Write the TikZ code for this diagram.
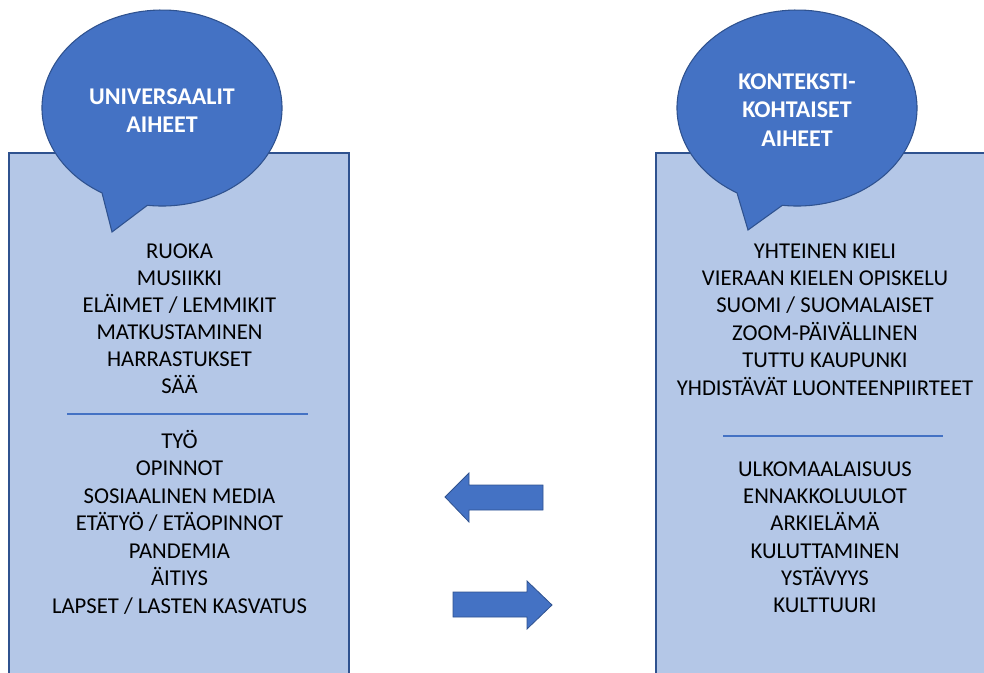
\documentclass[tikz,border=0pt]{standalone}
\usepackage{fontspec}
\setmainfont{Carlito}
\definecolor{panelfill}{HTML}{B4C7E7}
\definecolor{bubblefill}{HTML}{4472C4}
\definecolor{borderblue}{HTML}{2F528F}
\definecolor{lineblue}{HTML}{4472C4}
\begin{document}
\begin{tikzpicture}[x=0.75pt,y=-0.75pt,
  panel/.style={fill=panelfill,draw=borderblue,line width=0.8pt},
  bubble/.style={fill=bubblefill,draw=borderblue,line width=0.8pt},
  bubbletext/.style={text=white,font=\fontsize{18}{21.4}\selectfont\bfseries,align=center,inner sep=0pt},
  item/.style={font=\fontsize{17}{20}\selectfont,anchor=base,inner sep=0pt},
  sepline/.style={draw=lineblue,line width=0.8pt},
  bigarrow/.style={fill=bubblefill,draw=borderblue,line width=0.6pt}]
\useasboundingbox (0,0) rectangle (984,673);
\clip (0,0) rectangle (984,673);
% panels
\draw[panel] (9,153) rectangle (349,700);
\draw[panel] (656,153) rectangle (1000,700);
% bubbles
\draw[bubble] (102,192.9) arc[start angle=120,end angle=457,x radius=120,y radius=98] -- (112,232) -- cycle;
\draw[bubble] (737,192.9) arc[start angle=120,end angle=457,x radius=120,y radius=98] -- (748,230) -- cycle;
\node[bubbletext] (ltitle) at (162,110.5) {UNIVERSAALIT\\AIHEET};
\node[bubbletext] (rtitle) at (797,110) {KONTEKSTI-\\KOHTAISET\\AIHEET};
% left list
\foreach \y/\t [count=\i] in {251.5/RUOKA, 278.5/MUSIIKKI, 305.5/{ELÄIMET / LEMMIKIT}, 332.5/MATKUSTAMINEN, 359.5/HARRASTUKSET, 386.5/SÄÄ,
  441/TYÖ, 468.5/OPINNOT, 496/SOSIAALINEN MEDIA, 523.5/{ETÄTYÖ / ETÄOPINNOT}, 551/PANDEMIA, 578.5/ÄITIYS, 606/{LAPSET / LASTEN KASVATUS}}
  \node[item] (l\i) at (179.5,\y+7) {\t};
% right list
\foreach \y/\t [count=\i] in {252/YHTEINEN KIELI, 279/VIERAAN KIELEN OPISKELU, 306/{SUOMI / SUOMALAISET}, 333/ZOOM-PÄIVÄLLINEN, 360/TUTTU KAUPUNKI, 388/YHDISTÄVÄT LUONTEENPIIRTEET,
  469/ULKOMAALAISUUS, 496/ENNAKKOLUULOT, 523/ARKIELÄMÄ, 551/KULUTTAMINEN, 578/YSTÄVYYS, 605/KULTTUURI}
  \node[item] (r\i) at (825,\y+7) {\t};
% separators
\draw[sepline] (67,414) -- (308,414);
\draw[sepline] (723,436) -- (943,436);
% arrows
\draw[bigarrow] (445,497) -- (469,473) -- (469,485) -- (543,485) -- (543,510) -- (469,510) -- (469,522) -- cycle;
\draw[bigarrow] (552,605) -- (527,581) -- (527,592) -- (453,592) -- (453,617) -- (527,617) -- (527,629) -- cycle;
\end{tikzpicture}
\end{document}
